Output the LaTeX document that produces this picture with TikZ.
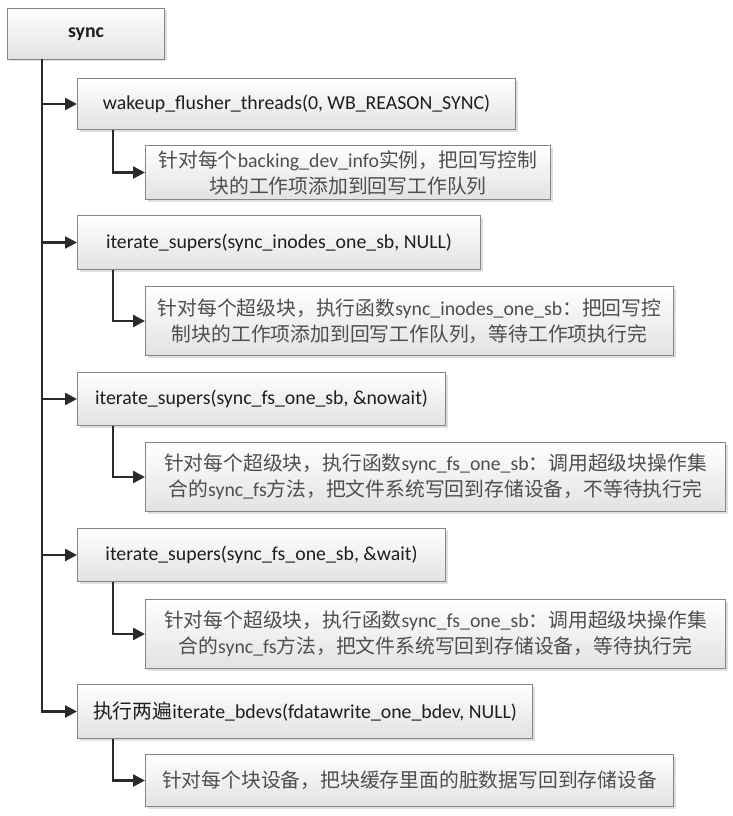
\documentclass[tikz,border=0pt]{standalone}
\usepackage{fontspec}
\setmainfont{Carlito}
\newfontfamily\cjkfont{Noto Sans CJK SC}
\newcommand{\zh}[1]{{\cjkfont #1}}
\usetikzlibrary{arrows.meta}
\usetikzlibrary{shadows}
\definecolor{boxline}{HTML}{858585}
\definecolor{boxbottom}{HTML}{E2E2E2}
\definecolor{linkcolor}{HTML}{2A2A2A}
\definecolor{maintext}{HTML}{1E1E1E}
\definecolor{subtext}{HTML}{4E4E4E}

\begin{document}
\begin{tikzpicture}[x=1pt, y=-1pt,
  box/.style={draw=boxline, line width=1pt, top color=white, bottom color=boxbottom,
    drop shadow={shadow xshift=2pt, shadow yshift=-2pt, opacity=0.25},
    anchor=north west, inner sep=0pt, align=center,
    font=\fontsize{19.8}{26}\selectfont},
  mainbox/.style={box, text=maintext},
  subbox/.style={box, text=subtext},
  link/.style={draw=linkcolor, line width=2.5pt, -{Triangle[length=12pt,width=12pt]}}]
  \useasboundingbox (0,0) rectangle (732,816);

  \node[mainbox, minimum width=157, minimum height=51] (sync) at (7,8) {\bfseries sync};

  \node[mainbox, minimum width=438, minimum height=51] (b1) at (77,78)
    {wakeup\_flusher\_threads(0, WB\_REASON\_SYNC)};
  \node[subbox, minimum width=405, minimum height=54] (s1) at (145,145)
    {\zh{针对每个}backing\_dev\_info\zh{实例，把回写控制}\\\zh{块的工作项添加到回写工作队列}};

  \node[mainbox, minimum width=403, minimum height=54] (b2) at (77,215)
    {iterate\_supers(sync\_inodes\_one\_sb, NULL)};
  \node[subbox, minimum width=528, minimum height=69] (s2) at (145,286)
    {\zh{针对每个超级块，执行函数}sync\_inodes\_one\_sb\zh{：把回写控}\\\zh{制块的工作项添加到回写工作队列，等待工作项执行完}};

  \node[mainbox, minimum width=368, minimum height=53] (b3) at (77,372)
    {iterate\_supers(sync\_fs\_one\_sb, \&nowait)};
  \node[subbox, minimum width=580, minimum height=69] (s3) at (145,442)
    {\zh{针对每个超级块，执行函数}sync\_fs\_one\_sb\zh{：调用超级块操作集}\\\zh{合的}sync\_fs\zh{方法，把文件系统写回到存储设备，不等待执行完}};

  \node[mainbox, minimum width=368, minimum height=53] (b4) at (77,528)
    {iterate\_supers(sync\_fs\_one\_sb, \&wait)};
  \node[subbox, minimum width=580, minimum height=69] (s4) at (145,599)
    {\zh{针对每个超级块，执行函数}sync\_fs\_one\_sb\zh{：调用超级块操作集}\\\zh{合的}sync\_fs\zh{方法，把文件系统写回到存储设备，等待执行完}};

  \node[mainbox, minimum width=455, minimum height=54] (b5) at (77,684)
    {\zh{执行两遍}iterate\_bdevs(fdatawrite\_one\_bdev, NULL)};
  \node[subbox, minimum width=528, minimum height=52] (s5) at (145,754)
    {\zh{针对每个块设备，把块缓存里面的脏数据写回到存储设备}};

  % spine from sync down to every call
  \coordinate (root) at (42,59);
  \foreach \b in {b1,b2,b3,b4,b5}
    \draw[link] (root) |- (\b.west);

  % each call to its description
  \foreach \b/\s in {b1/s1,b2/s2,b3/s3,b4/s4,b5/s5}
    \draw[link] ([xshift=36pt]\b.south west) |- (\s.west);
\end{tikzpicture}
\end{document}
